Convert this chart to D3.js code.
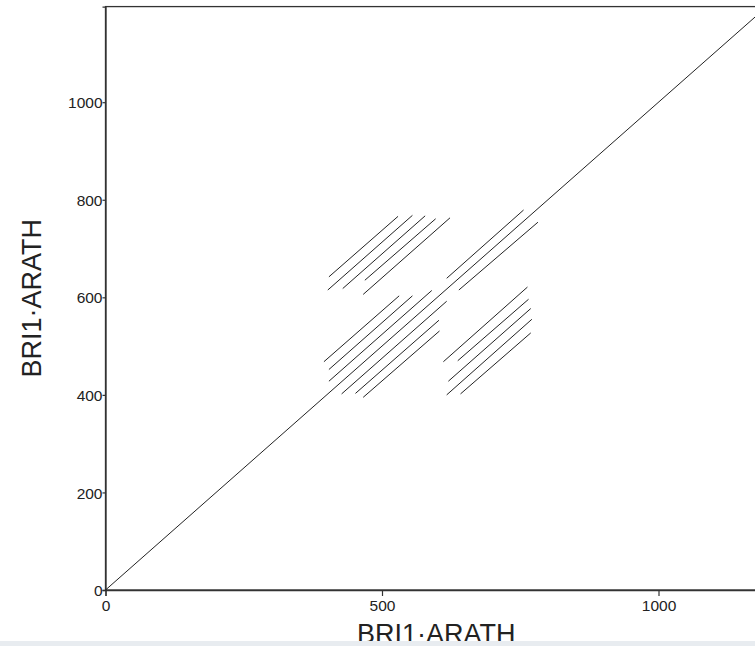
<!DOCTYPE html>
<html>
<head>
<meta charset="utf-8">
<script src="https://cdn.jsdelivr.net/npm/d3@7"></script>
<style>
  html, body { margin: 0; padding: 0; background: #fff; overflow: hidden; }
  svg { display: block; }
</style>
</head>
<body>
<svg id="chart" width="755" height="646"></svg>
<script>
// Sequence length (BRI1_ARATH vs itself)
const seqLength = 1196;
const xTicks = [0, 500, 1000];
const yTicks = [0, 200, 400, 600, 800, 1000];
const xTitle = "BRI1·ARATH";
const yTitle = "BRI1·ARATH";

// Main diagonal (self match)
const diagonal = [[0, 0, 1196, 1196]];

// Off-diagonal repeat matches: [x1, y1, x2, y2] in residue numbers
const upperLeftRepeats = [
  [404, 642, 529, 766],
  [402, 615, 555, 768],
  [429, 618, 578, 767],
  [469, 635, 597, 761],
  [466, 606, 623, 763]
];
const lowerRightRepeats = [
  [611, 468, 763, 621],
  [637, 470, 765, 596],
  [620, 428, 769, 577],
  [617, 400, 771, 555],
  [642, 402, 769, 527]
];
const centralRepeats = [
  [395, 468, 531, 603],
  [404, 452, 555, 603],
  [404, 428, 590, 614],
  [427, 402, 617, 592],
  [452, 403, 603, 553],
  [466, 395, 604, 531]
];
const upperRightRepeats = [
  [617, 639, 756, 779],
  [639, 615, 782, 754]
];

const svg = d3.select("#chart");
const x = d3.scaleLinear().domain([0, seqLength]).range([105.5, 105.5 + seqLength * 0.553]);
const y = d3.scaleLinear().domain([0, seqLength]).range([590, 590 - seqLength * 0.4878]);

const font = "'Liberation Sans', Arial, sans-serif";

// Frame
svg.append("rect")
  .attr("x", x(0)).attr("y", y(seqLength))
  .attr("width", x(seqLength) - x(0)).attr("height", y(0) - y(seqLength))
  .attr("fill", "none").attr("stroke", "#333").attr("stroke-width", 1.3);

// Axes
const xAxis = d3.axisBottom(x).tickValues(xTicks).tickSize(6).tickPadding(4).tickFormat(d3.format("d"));
const yAxis = d3.axisLeft(y).tickValues(yTicks).tickSize(3).tickPadding(0).tickFormat(d3.format("d"));

const gx = svg.append("g").attr("transform", `translate(0,${y(0)})`).call(xAxis);
const gy = svg.append("g").attr("transform", `translate(${x(0)},0)`).call(yAxis);
[gx, gy].forEach(g => {
  g.select(".domain").attr("stroke", "#333").attr("stroke-width", 1.3);
  g.selectAll(".tick line").attr("stroke", "#333").attr("stroke-width", 1.2);
  g.selectAll(".tick text").attr("fill", "#222").style("font-family", font).style("font-size", "15.5px");
});
gy.selectAll(".tick text").attr("dy", "0.36em");

// Segments
const allSegments = [].concat(diagonal, upperLeftRepeats, lowerRightRepeats, centralRepeats, upperRightRepeats);
svg.append("g").selectAll("line").data(allSegments).join("line")
  .attr("x1", d => x(d[0])).attr("y1", d => y(d[1]))
  .attr("x2", d => x(d[2])).attr("y2", d => y(d[3]))
  .attr("stroke", "#222").attr("stroke-width", 1);

// Titles
svg.append("text")
  .attr("x", (x(0) + x(seqLength)) / 2).attr("y", 643)
  .attr("text-anchor", "middle")
  .style("font-family", font).style("font-size", "27px").attr("fill", "#222")
  .text(xTitle);
svg.append("text")
  .attr("transform", `translate(41,${(y(0) + y(seqLength)) / 2}) rotate(-90)`)
  .attr("text-anchor", "middle")
  .style("font-family", font).style("font-size", "27px").attr("fill", "#222")
  .text(yTitle);

// Bottom strip
svg.append("rect").attr("x", 0).attr("y", 641).attr("width", 755).attr("height", 5).attr("fill", "#e8ecf0");
</script>
</body>
</html>
